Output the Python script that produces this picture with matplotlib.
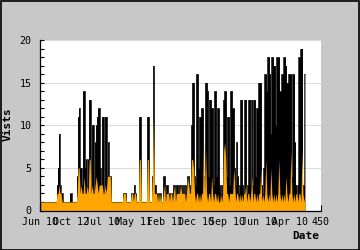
import numpy as np
import matplotlib
matplotlib.use("Agg")
import matplotlib.pyplot as plt
from matplotlib.patches import Rectangle
from matplotlib.ticker import MultipleLocator

# visits, one value per pixel column of the plot
visits = [
    1, 1, 1, 1, 1, 1, 1, 1, 1, 1,
    1, 1, 1, 1, 1, 1, 3, 5, 9, 3,
    2, 2, 1, 1, 1, 1, 1, 1, 1, 2,
    2, 1, 1, 1, 1, 1, 4, 11, 12, 5,
    5, 3, 14, 14, 5, 6, 3, 6, 13, 13,
    3, 10, 10, 2, 8, 10, 11, 12, 12, 5,
    3, 11, 11, 2, 11, 11, 4, 8, 4, 4,
    1, 1, 1, 1, 1, 1, 1, 1, 1, 1,
    1, 1, 2, 2, 2, 1, 1, 1, 1, 1,
    2, 2, 1, 3, 2, 1, 1, 1, 11, 11,
    1, 1, 1, 1, 1, 1, 11, 11, 1, 1,
    1, 4, 17, 3, 3, 2, 1, 2, 1, 2,
    1, 1, 4, 4, 1, 3, 3, 2, 1, 2,
    2, 1, 3, 3, 1, 3, 3, 2, 3, 3,
    2, 3, 2, 3, 1, 3, 4, 4, 2, 3,
    10, 15, 15, 4, 3, 16, 16, 5, 11, 11,
    12, 12, 4, 3, 15, 15, 14, 4, 13, 13,
    12, 12, 3, 14, 14, 4, 12, 12, 3, 2,
    3, 2, 13, 14, 14, 4, 11, 11, 3, 14,
    14, 12, 12, 5, 3, 8, 4, 2, 3, 13,
    13, 3, 2, 13, 13, 2, 3, 13, 13, 3,
    13, 3, 13, 13, 4, 12, 12, 15, 15, 15,
    3, 2, 5, 16, 16, 14, 18, 18, 16, 9,
    18, 18, 17, 17, 10, 18, 18, 18, 14, 14,
    16, 16, 18, 18, 17, 15, 15, 16, 16, 16,
    4, 16, 16, 8, 3, 2, 3, 18, 18, 19,
    19, 3, 3, 16,
]

# second series (orange area)
uniques = [
    1, 1, 1, 1, 1, 1, 1, 1, 1, 1,
    1, 1, 1, 1, 1, 1, 2, 2, 3, 2,
    2, 1, 1, 1, 1, 1, 1, 1, 1, 1,
    1, 1, 1, 1, 1, 1, 2, 5, 5, 2,
    3, 2, 2, 4, 2, 2, 3, 2, 6, 6,
    2, 3, 2, 2, 3, 4, 3, 2, 3, 3,
    3, 3, 2, 2, 3, 2, 4, 4, 4, 4,
    1, 1, 1, 1, 1, 1, 1, 1, 1, 1,
    1, 1, 2, 2, 2, 1, 1, 1, 1, 1,
    2, 2, 1, 2, 2, 1, 1, 1, 6, 6,
    1, 1, 1, 1, 1, 1, 6, 6, 1, 1,
    1, 4, 11, 2, 2, 2, 1, 2, 1, 2,
    1, 1, 2, 3, 1, 2, 2, 2, 1, 2,
    2, 1, 2, 3, 1, 2, 2, 2, 2, 3,
    2, 2, 2, 2, 1, 2, 4, 3, 2, 2,
    6, 6, 5, 2, 1, 2, 2, 1, 2, 1,
    2, 2, 8, 2, 7, 2, 1, 2, 2, 1,
    4, 2, 1, 2, 2, 1, 2, 1, 1, 2,
    1, 2, 7, 8, 6, 2, 2, 1, 2, 2,
    2, 2, 5, 3, 1, 2, 2, 1, 2, 1,
    2, 1, 2, 2, 3, 1, 2, 2, 1, 2,
    4, 1, 2, 2, 1, 2, 1, 2, 2, 5,
    1, 2, 1, 2, 6, 2, 1, 2, 1, 5,
    2, 1, 2, 1, 2, 1, 2, 6, 2, 1,
    2, 1, 2, 1, 4, 2, 1, 2, 2, 7,
    2, 1, 2, 1, 2, 2, 1, 2, 2, 1,
    7, 2, 1, 2,
]

tick_pos = [0, 50, 100, 150, 200, 250, 300, 350, 400, 450]
tick_labels = ["Jun 10", "Oct 12", "Jul 10", "May 11", "Feb 11",
               "Dec 10", "Sep 10", "Jun 10", "Apr 10", "450"]

# pixel columns -> x units (280 px wide plot covers 0..450)
x = np.arange(1, len(visits) + 1) * 450 / 280

bg = '#c8c8c8'
mono = 'DejaVu Sans Mono'

fig = plt.figure(figsize=(3.6, 2.5), dpi=100, facecolor=bg)
ax = fig.add_axes([40/360, 39.5/250, 281/360, 170.5/250])
ax.set_facecolor('white')

ax.fill_between(x, 0, visits, step='mid', color='black', lw=0, zorder=2)
ax.step(x, visits, where='mid', color='black', lw=0.5, zorder=2.5)
ax.fill_between(x, 0, uniques, color='#ffa500', lw=0, zorder=3)

ax.set_xlim(0, 450)
ax.set_ylim(0, 20)
ax.set_xticks(tick_pos)
ax.set_xticklabels(tick_labels, fontfamily=mono, fontsize=7.2)
ax.set_yticks([0, 5, 10, 15, 20])
ax.set_yticklabels(['0', '5', '10', '15', '20'], fontfamily=mono, fontsize=7.2)
ax.yaxis.set_minor_locator(MultipleLocator(1))
ax.tick_params(axis='y', which='both', direction='in', length=3, width=0.8, pad=6)
ax.tick_params(axis='x', direction='in', length=4, width=0.8, pad=5)
ax.grid(axis='y', color='#dcdcdc', lw=0.8, zorder=0)
ax.set_axisbelow(True)
for s in ['top', 'right']:
    ax.spines[s].set_visible(False)
for s in ['left', 'bottom']:
    ax.spines[s].set_linewidth(0.9)
    ax.spines[s].set_zorder(5)

fig.text(8/360, 1 - 124/250, 'Vists', rotation=90, ha='center', va='center',
         fontfamily=mono, fontweight='bold', fontsize=8)
fig.text(319/360, 1 - 236/250, 'Date', ha='right', va='center',
         fontfamily=mono, fontweight='bold', fontsize=8)

fig.patches.append(Rectangle((0.5/360, 0.5/250), 358.5/360, 248.5/250,
                             transform=fig.transFigure, fill=False,
                             edgecolor='black', lw=1.2))

fig.savefig('out.png', dpi=100, facecolor=bg)
